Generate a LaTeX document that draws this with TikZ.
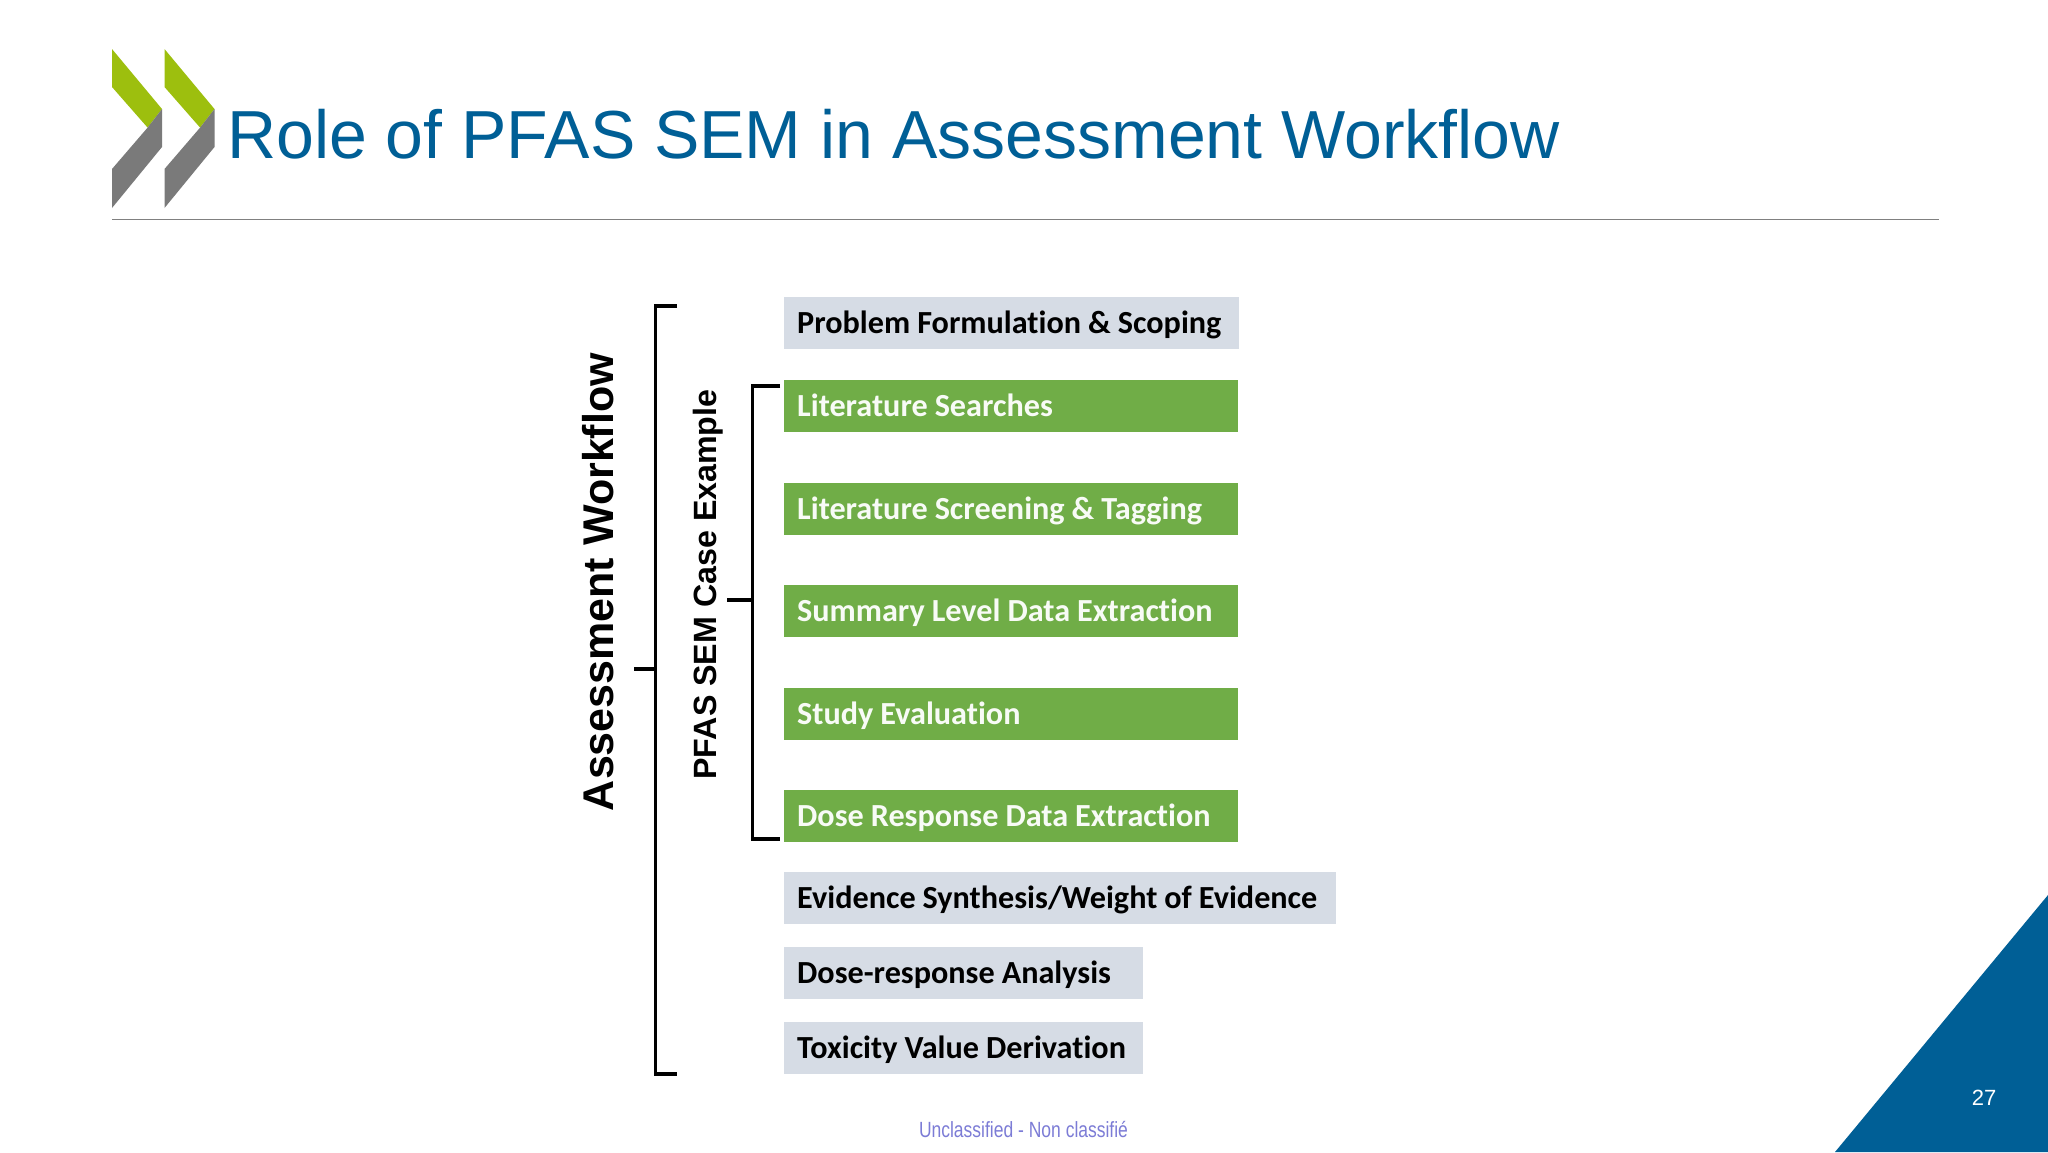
\documentclass[tikz,border=0pt]{standalone}
\usepackage{fontspec}
\setmainfont{Liberation Sans}
\newfontfamily\boxfont{Carlito}[Ligatures=NoCommon,BoldFont={Carlito Bold}]
\definecolor{oecdblue}{HTML}{005F96}
\definecolor{oecdlime}{HTML}{9DBF0E}
\definecolor{oecdgrey}{HTML}{7A7A7A}
\definecolor{rulegrey}{HTML}{808080}
\definecolor{boxgrey}{HTML}{D6DCE5}
\definecolor{boxgreen}{HTML}{70AD47}
\definecolor{footcol}{HTML}{7C7CD6}
\tikzset{
  wbox/.style={anchor=west,inner xsep=13pt,inner ysep=0pt,minimum height=52pt,align=left,
    font=\boxfont\bfseries\fontsize{32.2}{36}\selectfont,
    execute at begin node={\setlength{\spaceskip}{7pt}},text height=25pt,text depth=4pt},
  greybox/.style={wbox,fill=boxgrey,text=black},
  greenbox/.style={wbox,fill=boxgreen,text=white!95!boxgreen},
  bracket/.style={draw=black,line width=3.2pt,line cap=butt,line join=miter},
  vlabel/.style={rotate=90,font=\bfseries,text=black,inner sep=0pt}
}
\begin{document}
\begin{tikzpicture}[x=1pt,y=-1pt]
\useasboundingbox (0,0) rectangle (2048,1152);
\fill[white] (0,0) rectangle (2048,1152);
% logo
\foreach \d in {0,52.5}{
  \fill[oecdlime,xshift=\d pt] (112,49) -- (162,109) -- (147.6,127.6) -- (112,87) -- cycle;
  \fill[oecdgrey,xshift=\d pt] (162,109) -- (162,147) -- (112,208) -- (112,169) -- (147.6,127.6) -- cycle;
}
\node[anchor=base west,inner sep=0pt,text=oecdblue,font=\fontsize{68}{80}\selectfont] (title) at (227,158) {Role of PFAS SEM in Assessment Workflow};
\coordinate (ruleL) at (112,219.5);
\coordinate (ruleR) at (1939,219.5);
\draw[rulegrey,line width=1.5pt] (ruleL) -- (ruleR);
% boxes
\node[greybox,text width=429pt] (b1) at (784,323) {Problem Formulation \& Scoping};
\node[greenbox,text width=428pt] (b2) at (784,405.5) {Literature Searches};
\node[greenbox,text width=428pt] (b3) at (784,508.5) {Literature Screening \& Tagging};
\node[greenbox,text width=428pt] (b4) at (784,611) {Summary Level Data Extraction};
\node[greenbox,text width=428pt] (b5) at (784,714) {Study Evaluation};
\node[greenbox,text width=428pt] (b6) at (784,816) {Dose Response Data Extraction};
\node[greybox,text width=526pt] (b7) at (784,898) {Evidence Synthesis/Weight of Evidence};
\node[greybox,text width=332.5pt] (b8) at (784,973) {Dose-response Analysis};
\node[greybox,text width=332.5pt] (b9) at (784,1047.5) {Toxicity Value Derivation};
% brackets
\coordinate (o1) at (677,306);
\coordinate (o2) at (655.5,306);
\coordinate (o3) at (655.5,1074);
\coordinate (o4) at (677,1074);
\coordinate (om) at (655.5,669);
\coordinate (ot) at (634,669);
\draw[bracket] (o1) -- (o2) -- (o3) -- (o4);
\draw[bracket] (om) -- (ot);
\coordinate (i1) at (780,386);
\coordinate (i2) at (752.5,386);
\coordinate (i3) at (752.5,839);
\coordinate (i4) at (780,839);
\coordinate (im) at (752.5,600);
\coordinate (it) at (727,600);
\draw[bracket] (i1) -- (i2) -- (i3) -- (i4);
\draw[bracket] (im) -- (it);
% rotated labels
\node[vlabel,font=\bfseries\fontsize{43}{50}\selectfont] (aw) at (598,582) {Assessment Workflow};
\node[vlabel,font=\bfseries\fontsize{32.2}{38}\selectfont] (cs) at (708.5,584.5) {PFAS SEM Case Example};
% corner
\fill[oecdblue] (2048,895) -- (2048,1152) -- (1835,1152) -- cycle;
\node[text=white,inner sep=0pt,font=\fontsize{22}{26}\selectfont] (pg) at (1984,1098) {27};
\node[text=footcol,inner sep=0pt,font=\fontsize{22}{26}\selectfont,xscale=0.795] (ft) at (1023.5,1129) {Unclassified - Non classifié};
\end{tikzpicture}
\end{document}
